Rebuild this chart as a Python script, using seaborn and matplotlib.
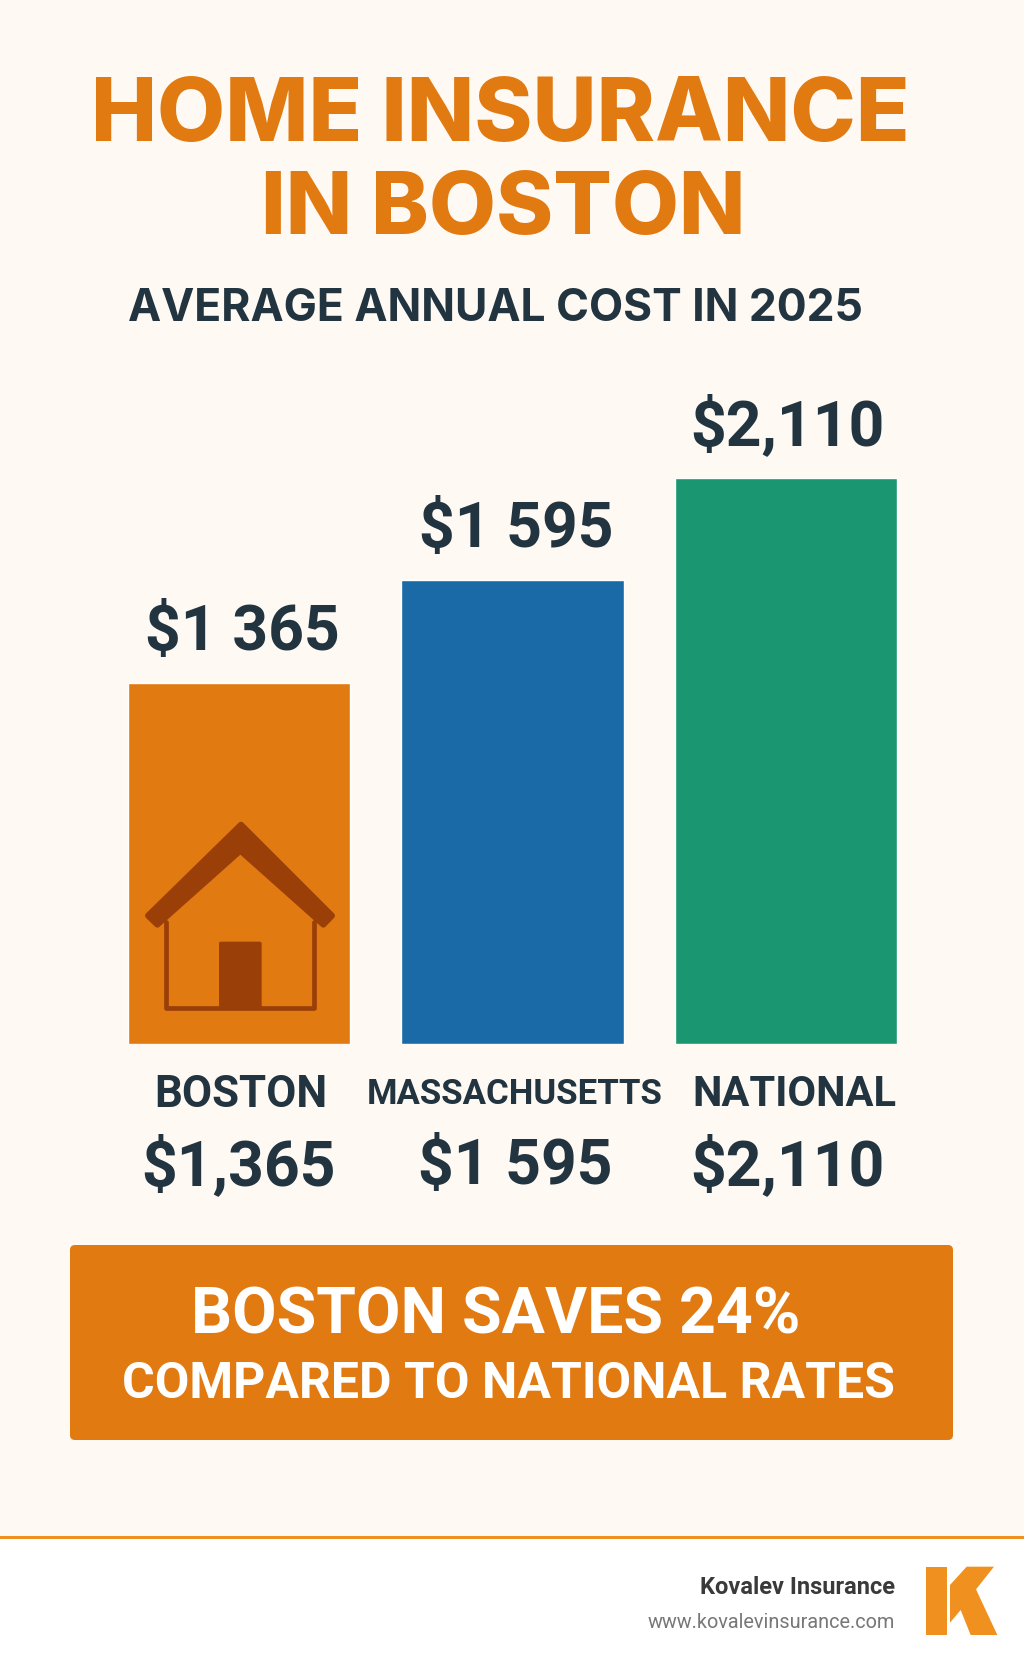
import matplotlib
matplotlib.use("Agg")
import matplotlib.pyplot as plt
import seaborn as sns
import pandas as pd
from matplotlib.patches import FancyBboxPatch, Polygon, Rectangle

# ---- data ----
categories = ["BOSTON", "MASSACHUSETTS", "NATIONAL"]
drawn_heights = [1346, 1730, 2110]   # bar lengths as drawn, in dollars of the National bar's scale
top_labels = ["$1 365", "$1 595", "$2,110"]
bottom_labels = ["$1,365", "$1 595", "$2,110"]
bar_colors = ["#E27A12", "#1A6AA8", "#1A9670"]
title_lines = ["HOME INSURANCE", "IN BOSTON"]
subtitle = "AVERAGE ANNUAL COST IN 2025"
banner_lines = ["BOSTON SAVES 24%", "COMPARED TO NATIONAL RATES"]

W, H = 1024, 1666
BG = "#FEF9F3"; DARK = "#22343F"; ORANGE = "#E27A12"; BROWN = "#9A3F08"; LOGO = "#F0901E"

sns.set_theme(style="white")
plt.rcParams["font.family"] = ["Inter", "DejaVu Sans"]

fig = plt.figure(figsize=(W / 100, H / 100), dpi=100, facecolor=BG)

# chart axes: bars run from pixel row 1044 (base) to 478 (top)
base_y, top_y = 1044, 478
ax = fig.add_axes([0, 1 - base_y / H, 1, (base_y - top_y) / H])
df = pd.DataFrame({"place": categories, "cost": drawn_heights})
sns.barplot(data=df, x="place", y="cost", hue="place", palette=bar_colors, saturation=1,
            width=0.815, legend=False, ax=ax)
ax.set_xlim(-239 / 273.5, (W - 239) / 273.5)
ax.set_ylim(0, 2110)
ax.axis("off")

# overlay in pixel coordinates
px = fig.add_axes([0, 0, 1, 1], facecolor="none")
px.set_xlim(0, W); px.set_ylim(H, 0); px.axis("off")

def label(x, y, s, size, color=DARK, weight="bold", family="Inter"):
    px.text(x, y, s, fontsize=size, color=color, fontweight=weight, ha="center", va="center",
            family=family)

# titles
label(500, 118, title_lines[0], 63.5, ORANGE, weight="heavy")
label(503, 211, title_lines[1], 62.5, ORANGE, weight="heavy")
label(495, 309, subtitle, 32)

# value labels and categories
for x, y, s in zip([242, 516, 787], [633, 530, 427], top_labels):
    label(x, y, s, 45, family="Roboto")
for x, s, size in zip([241, 515, 794], categories, [31.5, 25, 30]):
    label(x, 1095, s, size, family="Roboto")
for x, s in zip([238, 515, 787], bottom_labels):
    label(x, 1167, s, 45, family="Roboto")

# house icon
def pts(seq):
    return [(100 + a / 3, 780 + b / 3) for a, b in seq]
px.add_patch(Polygon(pts([(423, 134), (696, 407), (670, 434), (421, 212), (172, 434), (144, 407)]),
                     closed=True, fc=BROWN, ec=BROWN, lw=4.3, joinstyle="round"))
xl, xr, yb = 100 + 197 / 3, 100 + 641 / 3, 780 + 685 / 3
px.plot([xl, xl, xr, xr], [780 + 425 / 3, yb, yb, 780 + 425 / 3], color=BROWN, lw=3.4,
        solid_joinstyle="round")
px.add_patch(FancyBboxPatch((100 + 357 / 3, 780 + 485 / 3), 128 / 3, 205 / 3,
                            boxstyle="round,pad=0,rounding_size=2", fc=BROWN, ec="none"))

# banner
px.add_patch(FancyBboxPatch((70, 1245), 883, 195, boxstyle="round,pad=0,rounding_size=5",
                            fc=ORANGE, ec="none"))
label(496, 1316, banner_lines[0], 46.4, "white", family="Roboto")
label(508, 1384, banner_lines[1], 36, "white", family="Roboto")

# footer
px.add_patch(Rectangle((0, 1538), W, H - 1538, fc="white", ec="none"))
px.add_patch(Rectangle((0, 1536), W, 3, fc=LOGO, ec="none"))
px.text(895, 1587, "Kovalev Insurance", fontsize=17, fontweight="bold", color="#3A3A3A",
        ha="right", va="center", family="Roboto")
px.text(895, 1622, "www.kovalevinsurance.com", fontsize=14.3, color="#777777",
        ha="right", va="center", family="Roboto")
def logo(seq):
    return [(600 + a / 3, 1500 + b / 3) for a, b in seq]
px.add_patch(Polygon(logo([(978, 200), (1040, 200), (1040, 405), (978, 405)]), fc=LOGO, ec="none"))
px.add_patch(Polygon(logo([(1050, 255), (1100, 200), (1182, 200), (1128, 268), (1192, 405),
                           (1112, 405), (1082, 330), (1050, 368)]), fc=LOGO, ec="none"))

fig.savefig("out.png", dpi=100, facecolor=BG)
